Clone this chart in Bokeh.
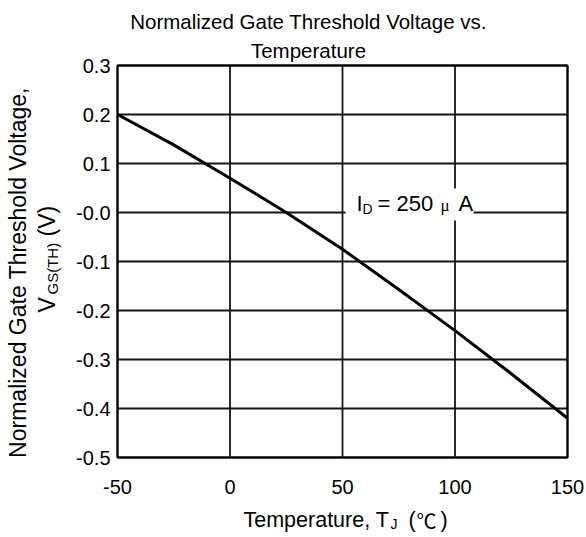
from math import pi
from bokeh.plotting import figure
from bokeh.models import Label, BoxAnnotation, Range1d
from bokeh.core.properties import value
from bokeh.embed import file_html
from bokeh.resources import INLINE

# ---- data ----
temps = [-50, -25, 0, 25, 50, 75, 100, 125, 150]
vgs_norm = [0.2, 0.138, 0.07, 0.0, -0.075, -0.157, -0.241, -0.329, -0.42]
x_ticks = [-50, 0, 50, 100, 150]
x_tick_labels = ["-50", "0", "50", "100", "150"]
y_ticks = [-0.5, -0.4, -0.3, -0.2, -0.1, 0.0, 0.1, 0.2, 0.3]
y_tick_labels = ["-0.5", "-0.4", "-0.3", "-0.2", "-0.1", "-0.0", "0.1", "0.2", "0.3"]
title_lines = ["Normalized Gate Threshold Voltage vs.", "Temperature"]
annotation_parts = ["I", "D", "= 250", "\u03bc", "A"]

FONT = "Liberation Sans"
W, H = 586, 537
# plot-area placement on the canvas (pixels)
PL, PR, PT, PB = 117, 567, 65, 457
xmin, xmax = x_ticks[0], x_ticks[-1]
ymin, ymax = y_ticks[0], y_ticks[-1]
kx = (PR - PL) / (xmax - xmin)   # px per degree
ky = (PB - PT) / (ymax - ymin)   # px per volt

p = figure(width=W, height=H, min_border=0,
           x_range=Range1d(xmin - PL / kx, xmax + (W - PR) / kx),
           y_range=Range1d(ymin - (H - PB) / ky, ymax + PT / ky),
           x_axis_location=None, y_axis_location=None,
           output_backend="svg", toolbar_location=None,
           background_fill_color="white", border_fill_color="white")
p.grid.visible = False
p.outline_line_color = None

# grid lines
p.segment(x0=x_ticks, y0=[ymin] * len(x_ticks), x1=x_ticks, y1=[ymax] * len(x_ticks),
          line_color="#151515", line_width=1.8)
p.segment(x0=[xmin] * len(y_ticks), y0=y_ticks, x1=[xmax] * len(y_ticks), y1=y_ticks,
          line_color="#151515", line_width=1.8)

# data curve
p.line(temps, vgs_norm, line_width=3, line_color="black")

# plot-area frame
p.quad(left=[xmin], right=[xmax], bottom=[ymin], top=[ymax],
       fill_color=None, line_color="black", line_width=2)

# tick labels
p.text(x=[xmin - 7 / kx] * len(y_ticks), y=y_ticks, text=y_tick_labels,
       text_font=value(FONT), text_font_size="20px", text_color="black",
       text_align="right", text_baseline="middle")
p.text(x=x_ticks, y=[ymin - 29 / ky] * len(x_ticks), text=x_tick_labels,
       text_font=value(FONT), text_font_size="20px", text_color="black",
       text_align="center", text_baseline="middle")

def lab(text, x, y, size, font=FONT, angle=0.0, align="left"):
    # x, y: pixel position (from canvas top-left) of the text's vertical middle
    p.add_layout(Label(x=x, y=H - y, x_units="screen", y_units="screen", text=text,
                       text_font=font, text_font_size=size, text_color="black",
                       angle=angle, angle_units="rad",
                       text_align=align, text_baseline="middle"))

# title (two centred lines)
lab(title_lines[0], 308, 20.5, "20.5px", align="center")
lab(title_lines[1], 308, 49.5, "20.5px", align="center")

# y axis label (rotated, two lines, with subscript)
lab("Normalized Gate Threshold Voltage,", 17.5, 272, "23px", angle=pi / 2, align="center")
lab("V", 46.5, 312, "23px", angle=pi / 2)
lab("GS(TH)", 51.5, 294, "15px", angle=pi / 2)
lab("(V)", 46.5, 236, "23px", angle=pi / 2)

# x axis label with subscript
lab("Temperature, T", 243, 519.5, "21.5px")
lab("J", 390, 523, "14px")
lab("(", 408, 519.5, "21.5px")
lab("\u2103", 416, 519.5, "20px", font="Noto Sans CJK JP")
lab(")", 440, 519.5, "21.5px")

# annotation with white background
p.add_layout(BoxAnnotation(left=xmin + (345 - PL) / kx, right=xmin + (473 - PL) / kx,
                           top=ymax - (188 - PT) / ky, bottom=ymax - (220 - PT) / ky,
                           fill_color="white", fill_alpha=1.0, line_color=None))
lab(annotation_parts[0], 356, 202.5, "22px")
lab(annotation_parts[1], 362, 208, "14px")
lab(annotation_parts[2], 377, 202.5, "22px")
lab(annotation_parts[3], 440, 205, "17px", font="Liberation Serif")
lab(annotation_parts[4], 458, 202.5, "22px")

open("out.html", "w").write(file_html(p, INLINE))
